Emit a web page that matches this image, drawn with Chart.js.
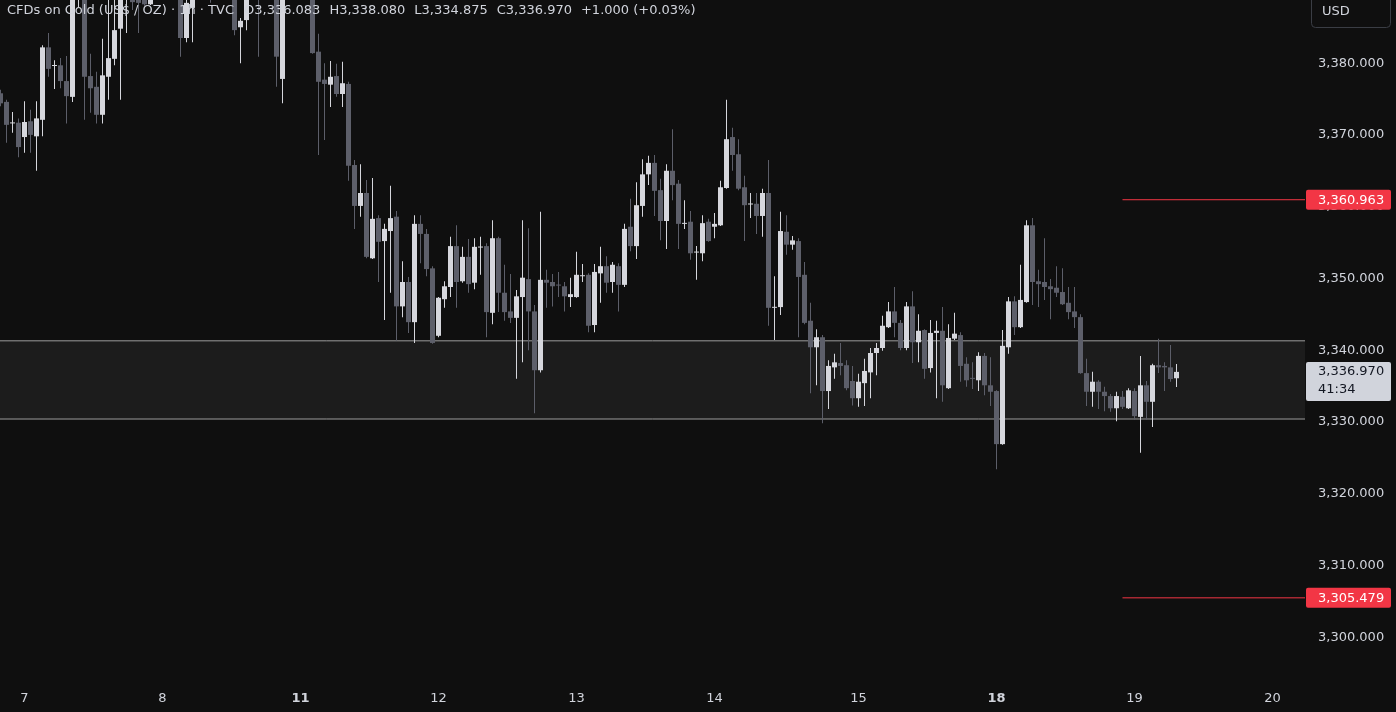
<!DOCTYPE html>
<html>
<head>
<meta charset="utf-8">
<script src="https://cdn.jsdelivr.net/npm/chart.js@4.4.1/dist/chart.umd.min.js"></script>
<style>
  html, body { margin: 0; padding: 0; background: #0f0f0f; }
  #wrap { width: 1396px; height: 712px; }
</style>
</head>
<body>
<div id="wrap"><canvas id="goldChart" width="1396" height="712"></canvas></div>
<script>
// hourly bars, bar 0 = first hour of the 7th
const firstBar = -4;

const opens = [
  3375.8, 3374.6, 3371.6, 3371.7, 3369.7, 3371.9, 3369.8, 3372.1, 3382.2, 3379.6,
  3379.7, 3377.5, 3375.3, 3389.5, 3393.0, 3378.2, 3376.7, 3372.8, 3378.1, 3380.6,
  3384.8, 3390.9, 3389.5, 3390.2, 3389.2, 3388.2, 3389.4, 3390.9, 3393.0, 3391.6,
  3390.2, 3383.5, 3387.7, 3390.9, 3392.3, 3391.6, 3389.9, 3391.6, 3390.9, 3389.5,
  3385.0, 3386.0, 3390.2, 3391.6, 3389.1, 3390.9, 3389.5, 3377.8, 3390.2, 3392.3,
  3390.9, 3393.0, 3390.2, 3381.6, 3377.7, 3377.0, 3378.2, 3375.7, 3377.1, 3365.8,
  3360.1, 3361.9, 3352.8, 3358.4, 3355.2, 3356.6, 3358.6, 3346.1, 3349.5, 3343.9,
  3357.6, 3356.2, 3351.4, 3342.0, 3347.1, 3348.8, 3354.5, 3349.6, 3353.0, 3349.4,
  3354.3, 3354.5, 3345.2, 3355.6, 3348.0, 3345.4, 3344.5, 3347.4, 3349.9, 3345.4,
  3337.2, 3349.8, 3349.5, 3349.1, 3348.9, 3347.4, 3347.4, 3350.3, 3350.5, 3343.5,
  3350.7, 3351.7, 3349.5, 3351.7, 3349.1, 3357.2, 3354.5, 3360.1, 3364.5, 3366.1,
  3362.3, 3358.0, 3365.0, 3363.2, 3357.6, 3357.9, 3353.6, 3353.5, 3357.9, 3357.2,
  3357.4, 3362.6, 3369.7, 3367.3, 3362.7, 3360.3, 3360.4, 3358.7, 3361.9, 3345.9,
  3346.0, 3356.5, 3354.7, 3355.2, 3350.5, 3344.1, 3340.4, 3341.8, 3334.3, 3337.6,
  3338.2, 3337.9, 3335.7, 3333.3, 3335.4, 3336.9, 3339.6, 3340.3, 3343.2, 3345.4,
  3343.8, 3340.3, 3346.1, 3341.1, 3342.8, 3337.5, 3342.4, 3342.7, 3334.7, 3341.6,
  3342.1, 3338.1, 3336.1, 3335.8, 3339.2, 3335.1, 3334.3, 3326.9, 3340.4, 3346.8,
  3343.2, 3346.7, 3357.4, 3349.6, 3349.5, 3348.9, 3348.7, 3348.1, 3346.6, 3345.4,
  3344.6, 3336.8, 3334.2, 3335.6, 3334.2, 3333.6, 3331.9, 3333.5, 3331.9, 3334.3,
  3330.7, 3335.1, 3332.8, 3337.9, 3337.8, 3337.6, 3336.083
];

const highs = [
  3376.3, 3374.9, 3373.2, 3372.3, 3374.7, 3373.5, 3374.7, 3382.5, 3384.2, 3380.4,
  3380.7, 3381.0, 3392.3, 3395.1, 3393.7, 3381.3, 3378.8, 3383.4, 3389.5, 3389.5,
  3391.6, 3395.8, 3390.9, 3391.6, 3389.9, 3390.2, 3392.3, 3394.4, 3395.1, 3393.0,
  3390.9, 3389.1, 3391.6, 3393.7, 3394.4, 3393.0, 3393.0, 3393.0, 3392.3, 3390.2,
  3386.3, 3390.9, 3393.0, 3392.3, 3392.3, 3391.6, 3390.2, 3391.6, 3393.7, 3393.7,
  3394.4, 3394.4, 3390.9, 3384.1, 3380.0, 3380.3, 3379.9, 3380.2, 3377.4, 3366.5,
  3365.9, 3363.7, 3364.0, 3358.8, 3357.6, 3362.9, 3359.4, 3352.4, 3350.2, 3358.8,
  3358.8, 3356.9, 3351.7, 3347.4, 3349.6, 3355.8, 3357.4, 3354.4, 3355.5, 3355.6,
  3355.8, 3354.9, 3358.1, 3355.8, 3351.9, 3350.6, 3348.4, 3358.1, 3357.0, 3346.3,
  3359.3, 3351.2, 3350.6, 3350.9, 3349.5, 3350.1, 3353.7, 3352.0, 3350.7, 3352.0,
  3354.4, 3353.1, 3352.3, 3352.1, 3357.6, 3361.1, 3363.4, 3366.6, 3367.1, 3367.2,
  3363.9, 3365.9, 3370.8, 3363.7, 3360.9, 3359.4, 3354.5, 3358.8, 3358.3, 3359.1,
  3363.6, 3374.9, 3371.0, 3369.4, 3364.3, 3361.9, 3361.9, 3362.5, 3366.5, 3350.3,
  3359.3, 3358.8, 3355.9, 3355.6, 3352.3, 3346.6, 3342.9, 3342.1, 3338.6, 3339.5,
  3341.0, 3338.6, 3337.8, 3336.7, 3338.8, 3340.3, 3341.0, 3344.8, 3346.7, 3348.8,
  3344.2, 3346.7, 3348.2, 3345.0, 3342.9, 3344.2, 3344.1, 3346.0, 3343.6, 3345.2,
  3342.5, 3339.0, 3338.3, 3339.7, 3339.6, 3339.0, 3334.4, 3342.8, 3347.4, 3347.5,
  3351.9, 3358.1, 3358.4, 3351.2, 3355.6, 3349.9, 3351.7, 3351.4, 3348.8, 3348.8,
  3345.0, 3338.8, 3337.0, 3335.8, 3334.9, 3333.9, 3334.2, 3334.3, 3334.7, 3334.7,
  3339.2, 3335.7, 3338.1, 3341.6, 3338.3, 3340.7, 3338.080
];

const lows = [
  3374.0, 3368.9, 3370.3, 3366.9, 3367.5, 3367.5, 3365.0, 3369.8, 3378.1, 3376.4,
  3376.5, 3371.6, 3374.6, 3387.8, 3372.1, 3373.1, 3371.6, 3371.6, 3374.9, 3379.7,
  3374.9, 3384.2, 3387.4, 3384.2, 3388.0, 3388.1, 3389.1, 3390.5, 3390.9, 3389.5,
  3380.9, 3382.9, 3382.9, 3390.2, 3390.2, 3388.4, 3389.5, 3389.9, 3389.1, 3383.9,
  3380.0, 3384.6, 3389.5, 3380.9, 3388.9, 3389.2, 3376.7, 3374.4, 3389.5, 3389.9,
  3390.2, 3389.5, 3381.3, 3367.2, 3369.3, 3373.9, 3375.3, 3373.9, 3363.6, 3356.9,
  3358.6, 3352.8, 3352.7, 3349.5, 3344.2, 3348.0, 3341.3, 3344.6, 3342.4, 3341.0,
  3352.1, 3350.3, 3340.9, 3341.8, 3345.9, 3347.4, 3345.9, 3349.4, 3348.0, 3348.5,
  3350.5, 3341.8, 3343.6, 3345.3, 3344.1, 3343.8, 3336.0, 3338.3, 3340.0, 3331.2,
  3336.9, 3345.9, 3346.1, 3347.4, 3345.4, 3346.0, 3347.3, 3349.5, 3342.5, 3342.5,
  3346.6, 3348.0, 3348.0, 3345.4, 3348.8, 3353.8, 3352.7, 3358.6, 3363.0, 3358.7,
  3355.3, 3354.1, 3360.9, 3354.1, 3356.9, 3352.6, 3349.8, 3352.4, 3355.1, 3355.6,
  3357.3, 3362.5, 3365.0, 3362.3, 3355.2, 3358.4, 3356.2, 3355.8, 3343.4, 3341.4,
  3344.9, 3353.3, 3354.0, 3341.8, 3343.6, 3334.0, 3335.1, 3329.8, 3331.8, 3336.0,
  3336.5, 3334.4, 3332.3, 3332.1, 3332.2, 3333.3, 3336.5, 3339.9, 3343.1, 3341.8,
  3340.0, 3340.0, 3338.2, 3338.3, 3336.0, 3336.9, 3333.3, 3332.8, 3334.6, 3341.4,
  3335.6, 3334.9, 3334.6, 3334.3, 3333.7, 3332.2, 3323.4, 3326.8, 3339.5, 3342.1,
  3343.1, 3346.6, 3346.3, 3346.0, 3347.0, 3344.3, 3347.4, 3346.3, 3344.3, 3343.1,
  3336.7, 3332.2, 3332.1, 3331.8, 3331.5, 3331.4, 3330.1, 3331.8, 3331.8, 3330.3,
  3325.7, 3330.3, 3329.3, 3336.8, 3334.3, 3335.6, 3334.875
];

const closes = [
  3374.4, 3371.4, 3371.7, 3368.3, 3371.8, 3370.0, 3372.3, 3382.2, 3379.2, 3379.7,
  3377.5, 3375.4, 3390.9, 3393.7, 3378.1, 3376.5, 3372.8, 3378.3, 3380.7, 3384.6,
  3390.2, 3394.4, 3388.5, 3388.4, 3388.2, 3389.4, 3390.9, 3393.0, 3391.6, 3390.2,
  3383.5, 3388.4, 3390.9, 3392.3, 3391.6, 3389.9, 3391.6, 3390.9, 3389.5, 3384.6,
  3385.9, 3390.2, 3391.6, 3389.1, 3390.9, 3389.5, 3380.9, 3390.2, 3392.3, 3390.9,
  3393.0, 3390.2, 3381.4, 3377.4, 3377.1, 3378.1, 3375.7, 3377.2, 3365.7, 3360.1,
  3361.9, 3353.0, 3358.3, 3355.1, 3356.9, 3358.4, 3346.1, 3349.5, 3343.9, 3357.6,
  3356.2, 3351.3, 3341.0, 3347.3, 3348.9, 3354.5, 3349.5, 3353.0, 3349.2, 3354.4,
  3354.4, 3345.3, 3355.6, 3348.0, 3345.3, 3344.5, 3347.5, 3350.1, 3345.4, 3337.2,
  3349.8, 3349.4, 3348.9, 3349.0, 3347.5, 3347.8, 3350.5, 3350.4, 3343.4, 3350.9,
  3351.7, 3349.4, 3351.9, 3349.1, 3356.9, 3354.5, 3360.2, 3364.5, 3366.1, 3362.2,
  3358.0, 3365.0, 3363.0, 3357.6, 3357.7, 3353.5, 3353.7, 3357.7, 3355.2, 3357.6,
  3362.7, 3369.4, 3367.2, 3362.5, 3360.2, 3360.4, 3358.7, 3361.9, 3345.9, 3346.0,
  3356.6, 3354.7, 3355.3, 3350.2, 3343.8, 3340.4, 3341.8, 3334.3, 3337.8, 3338.3,
  3337.8, 3334.7, 3333.3, 3335.6, 3337.1, 3339.6, 3340.3, 3343.4, 3345.4, 3343.8,
  3340.3, 3346.1, 3341.1, 3342.7, 3337.4, 3342.4, 3342.7, 3335.1, 3341.7, 3342.3,
  3337.8, 3335.8, 3336.0, 3339.2, 3335.1, 3334.2, 3326.9, 3340.6, 3346.8, 3343.2,
  3347.0, 3357.4, 3349.5, 3349.2, 3348.8, 3348.5, 3348.0, 3346.4, 3345.3, 3344.6,
  3336.8, 3334.2, 3335.6, 3334.2, 3333.6, 3331.9, 3333.6, 3332.1, 3334.4, 3330.8,
  3335.1, 3332.8, 3337.9, 3337.6, 3337.6, 3335.97, 3336.97
];

// time axis: bar index where each day label sits
const dayLabels = ['7', '8', '11', '12', '13', '14', '15', '18', '19', '20'];
const dayStarts = [0, 23, 46, 69, 92, 115, 139, 162, 185, 208];
const boldDays = ['11', '18'];

const priceTicks = [3300, 3310, 3320, 3330, 3340, 3350, 3360, 3370, 3380];

// support zone and the two marked levels
const zoneTop = 3341.3;
const zoneBottom = 3330.4;
const levels = [3360.963, 3305.479];
const levelFromBar = 183;

const lastPrice = 3336.970;
const countdown = '41:34';
const titleParts = ['CFDs on Gold (US$ / OZ) · 1h · TVC', 'O3,336.083', 'H3,338.080', 'L3,334.875', 'C3,336.970', '+1.000 (+0.03%)'];

const xMin = -4.0833, xMax = 213.4167;
const yMin = 3293.61, yMax = 3388.8;

const bull = '#d6d7dd';
const bear = '#5d5f6a';
const textColor = '#d1d4dc';
const red = '#f23645';
const fontFamily = '"DejaVu Sans", sans-serif';

const fmt = (v) => v.toLocaleString('en-US', { minimumFractionDigits: 3, maximumFractionDigits: 3 });

const candleColors = opens.map((o, i) => (closes[i] >= o ? bull : bear));
const wicks = highs.map((h, i) => ({ x: firstBar + i, y: [lows[i], h] }));
const bodies = opens.map((o, i) => ({ x: firstBar + i, y: [o, closes[i]] }));

const flat = (v, from, to) => [{ x: from, y: v }, { x: to, y: v }];

// tick labels must not push the plot area in from the edges
const noEdgePadding = (s) => {
  s.paddingTop = 0;
  s.paddingBottom = 0;
  s.paddingLeft = 0;
  s.paddingRight = 0;
};

const overlay = {
  id: 'overlay',
  beforeDraw(chart) {
    const { ctx } = chart;
    ctx.save();
    ctx.fillStyle = '#0f0f0f';
    ctx.fillRect(0, 0, chart.width, chart.height);
    ctx.restore();
  },
  afterDraw(chart) {
    const { ctx } = chart;
    const y = chart.scales.y;
    const boxLeft = chart.chartArea.right + 1;
    const boxW = 85;
    ctx.save();
    ctx.font = '13px ' + fontFamily;
    ctx.textBaseline = 'middle';

    // legend line at top left
    let tx = 7;
    ctx.fillStyle = textColor;
    titleParts.forEach((t, i) => {
      ctx.fillText(t, tx, 11);
      tx += ctx.measureText(t).width + (i === 0 ? 10 : 9);
    });

    // red level tags
    levels.forEach((v) => {
      const py = y.getPixelForValue(v);
      ctx.fillStyle = red;
      ctx.beginPath();
      ctx.roundRect(boxLeft, py - 10, boxW, 20, 2);
      ctx.fill();
      ctx.fillStyle = '#ffffff';
      ctx.fillText(fmt(v), boxLeft + 12, py + 0.5);
    });

    // last price tag with countdown
    const lp = y.getPixelForValue(lastPrice);
    ctx.fillStyle = '#d1d4dc';
    ctx.beginPath();
    ctx.roundRect(boxLeft, lp - 10, boxW, 39, 2);
    ctx.fill();
    ctx.fillStyle = '#131722';
    ctx.fillText(fmt(lastPrice), boxLeft + 12, lp);
    ctx.fillText(countdown, boxLeft + 12, lp + 18);

    // currency button
    ctx.strokeStyle = '#3a3d44';
    ctx.lineWidth = 1;
    ctx.beginPath();
    ctx.roundRect(1311.5, -5.5, 79, 33, 4);
    ctx.stroke();
    ctx.fillStyle = textColor;
    ctx.fillText('USD', 1322, 12);
    ctx.restore();
  }
};

const ctx = document.getElementById('goldChart').getContext('2d');
new Chart(ctx, {
  type: 'bar',
  data: {
    datasets: [
      {
        type: 'line',
        data: flat(zoneTop, xMin, xMax),
        borderColor: '#9c9c9c',
        borderWidth: 1,
        pointRadius: 0,
        order: 10
      },
      {
        type: 'line',
        data: flat(zoneBottom, xMin, xMax),
        borderColor: '#9c9c9c',
        borderWidth: 1,
        pointRadius: 0,
        fill: '-1',
        backgroundColor: '#1c1c1c',
        order: 9
      },
      {
        data: wicks,
        backgroundColor: candleColors,
        barThickness: 1,
        grouped: false,
        inflateAmount: 0,
        order: 5
      },
      {
        data: bodies,
        backgroundColor: candleColors,
        barThickness: 5,
        minBarLength: 1,
        grouped: false,
        inflateAmount: 0,
        order: 4
      },
      ...levels.map((v) => ({
        type: 'line',
        data: flat(v, levelFromBar, xMax),
        borderColor: red,
        borderWidth: 1,
        pointRadius: 0,
        order: 3
      }))
    ]
  },
  options: {
    responsive: false,
    animation: false,
    layout: { padding: 0 },
    plugins: {
      legend: { display: false },
      tooltip: { enabled: false },
      filler: { drawTime: 'beforeDatasetsDraw' }
    },
    scales: {
      x: {
        type: 'linear',
        min: xMin,
        max: xMax,
        offset: false,
        grid: { display: false, drawTicks: false },
        border: { display: false },
        afterBuildTicks: (s) => { s.ticks = dayStarts.map((v) => ({ value: v })); },
        afterFit: (s) => { s.height = 29; noEdgePadding(s); },
        ticks: {
          autoSkip: false,
          maxRotation: 0,
          padding: 8,
          color: textColor,
          font: (c) => ({
            family: fontFamily,
            size: 13,
            weight: boldDays.includes(dayLabels[dayStarts.indexOf(c.tick && c.tick.value)]) ? 'bold' : 'normal'
          }),
          callback: (v) => dayLabels[dayStarts.indexOf(v)] || ''
        }
      },
      y: {
        position: 'right',
        min: yMin,
        max: yMax,
        grid: { display: false, drawTicks: false },
        border: { display: false },
        afterBuildTicks: (s) => { s.ticks = priceTicks.map((v) => ({ value: v })); },
        afterFit: (s) => { s.width = 91; noEdgePadding(s); },
        ticks: {
          padding: 13,
          color: textColor,
          font: { family: fontFamily, size: 13 },
          callback: (v) => fmt(v)
        }
      }
    }
  },
  plugins: [overlay]
});
</script>
</body>
</html>
